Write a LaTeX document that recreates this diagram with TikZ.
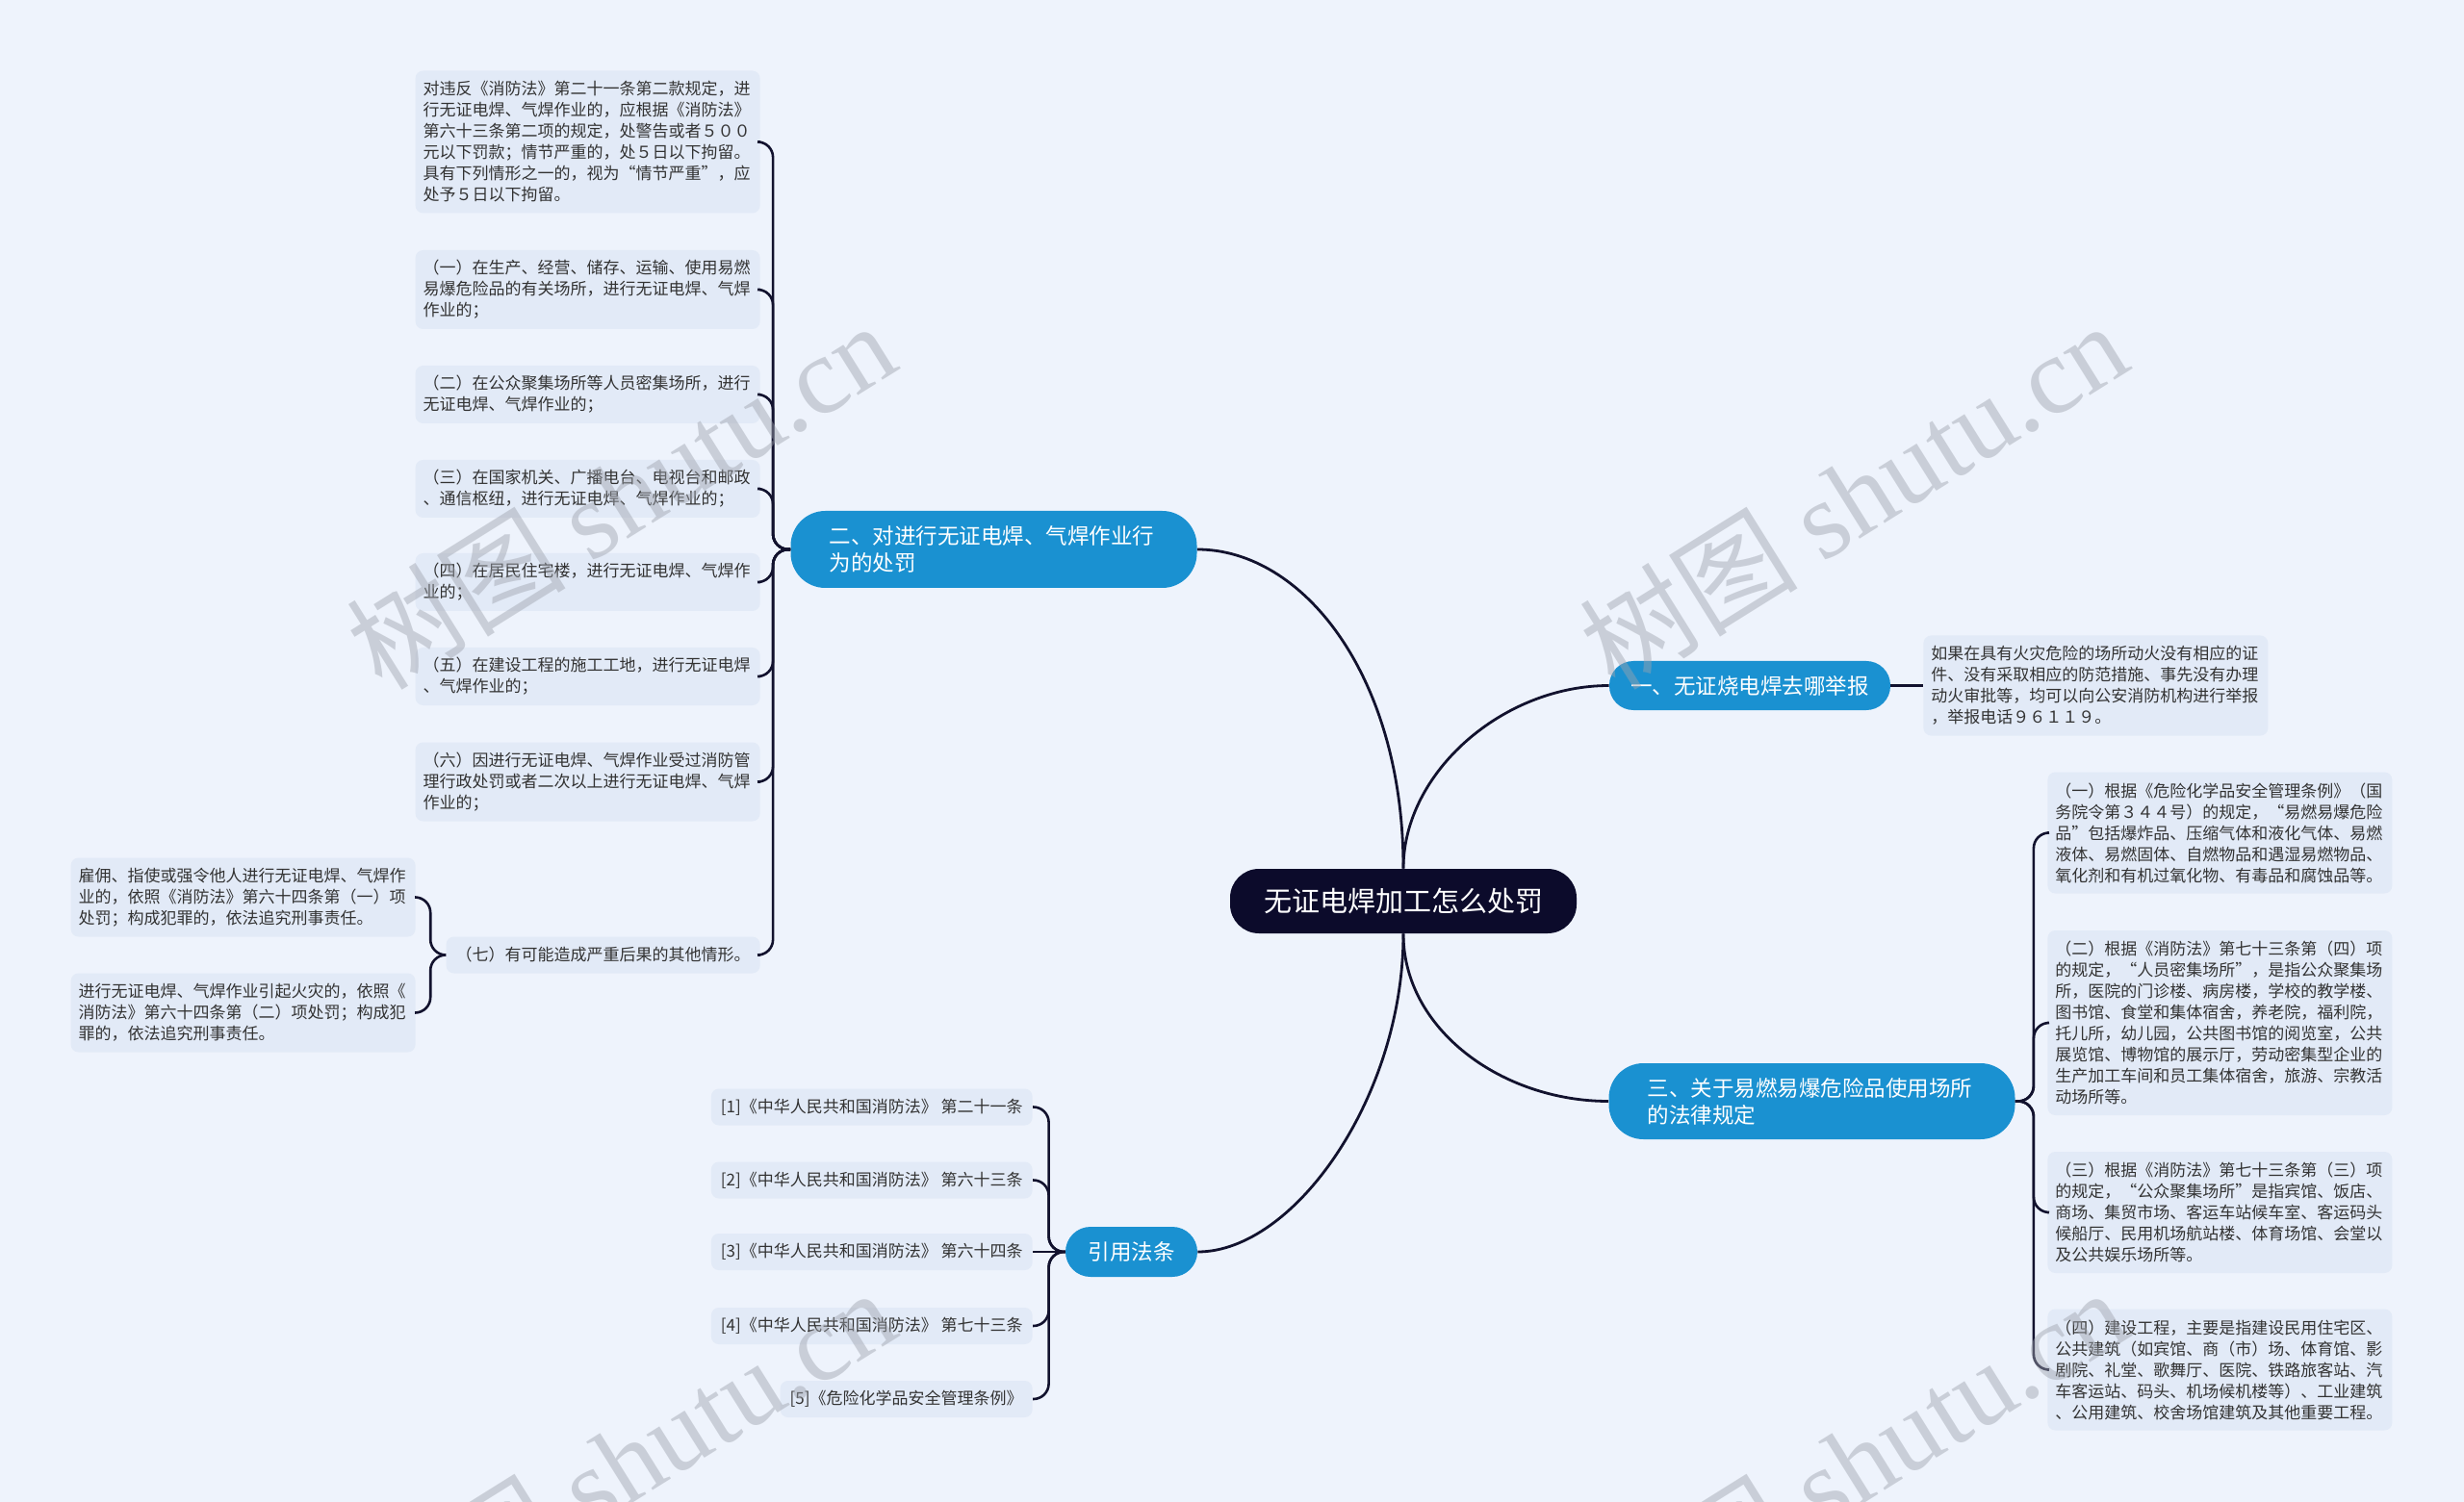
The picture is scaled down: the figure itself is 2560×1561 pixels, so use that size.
\documentclass[tikz,border=0pt]{standalone}
\usepackage{fontspec}
\setmainfont{Noto Sans CJK SC}
\newfontfamily\wmlatin{Liberation Serif}
\definecolor{bg}{HTML}{EEF3FC}
\definecolor{leafc}{HTML}{E2EAF7}
\definecolor{blu}{HTML}{1A91D1}
\definecolor{navy}{HTML}{0C0B2B}
\definecolor{txt}{HTML}{333333}
\definecolor{lnc}{HTML}{12122E}
\definecolor{wm}{HTML}{9EA3AD}
\begin{document}
\begin{tikzpicture}[x=0.5pt,y=-0.5pt,
  leaf/.style={fill=leafc, rounded corners=4pt, inner xsep=4pt, inner ysep=0pt, text=txt,
    font=\fontsize{8.5pt}{11pt}\selectfont, align=left, text width=171pt,
    minimum height={11pt*#1+8pt}},
  short/.style={fill=leafc, rounded corners=4pt, inner xsep=5pt, inner ysep=0pt, text=txt,
    font=\fontsize{8.5pt}{11pt}\selectfont, minimum height=19pt},
  br/.style={fill=blu, text=white, inner sep=0pt, font=\fontsize{11.25pt}{14pt}\selectfont},
  root/.style={fill=navy, text=white, inner sep=0pt, rounded corners=15pt,
    minimum width=180pt, minimum height=33.5pt, font=\fontsize{14.5pt}{17pt}\selectfont},
  conn/.style={draw=lnc, line width=1.4pt},
  bk/.style={draw=lnc, line width=1.3pt, rounded corners=8pt},
  wmk/.style={rotate=32, text=wm, opacity=0.45, inner sep=0pt, font=\fontsize{57pt}{57pt}\selectfont}
]
\useasboundingbox[fill=bg] (0,0) rectangle (2560,1561);

% root and main branches
\node[root] (c) at (1458,936.5) {无证电焊加工怎么处罚};
\node[br, text width=171pt, align=left, inner xsep=20pt, minimum height=40pt, rounded corners=18pt] (b2) at (1032.5,571) {二、对进行无证电焊、气焊作业行\\为的处罚};
\node[br, minimum width=146pt, minimum height=25.5pt, rounded corners=12.5pt] (b1) at (1818,712.5) {一、无证烧电焊去哪举报};
\node[br, text width=171pt, align=left, inner xsep=20pt, minimum height=39.5pt, rounded corners=18pt] (b3) at (1882.5,1144.5) {三、关于易燃易爆危险品使用场所\\的法律规定};
\node[br, minimum width=68.5pt, minimum height=26pt, rounded corners=13pt] (b4) at (1175.5,1301) {引用法条};

% left leaves
\node[leaf=6, anchor=east] (l0) at (790,147.5) {对违反《消防法》第二十一条第二款规定，进\\行无证电焊、气焊作业的，应根据《消防法》\\第六十三条第二项的规定，处警告或者５００\\元以下罚款；情节严重的，处５日以下拘留。\\具有下列情形之一的，视为“情节严重”，应\\处予５日以下拘留。};
\node[leaf=3, anchor=east] (l1) at (790,301) {（一）在生产、经营、储存、运输、使用易燃\\易爆危险品的有关场所，进行无证电焊、气焊\\作业的；};
\node[leaf=2, anchor=east] (l2) at (790,410) {（二）在公众聚集场所等人员密集场所，进行\\无证电焊、气焊作业的；};
\node[leaf=2, anchor=east] (l3) at (790,508) {（三）在国家机关、广播电台、电视台和邮政\\、通信枢纽，进行无证电焊、气焊作业的；};
\node[leaf=2, anchor=east] (l4) at (790,605) {（四）在居民住宅楼，进行无证电焊、气焊作\\业的；};
\node[leaf=2, anchor=east] (l5) at (790,703) {（五）在建设工程的施工工地，进行无证电焊\\、气焊作业的；};
\node[leaf=3, anchor=east] (l6) at (790,812.5) {（六）因进行无证电焊、气焊作业受过消防管\\理行政处罚或者二次以上进行无证电焊、气焊\\作业的；};
\node[short, anchor=east] (l7) at (790,992.5) {（七）有可能造成严重后果的其他情形。};
\node[leaf=3, anchor=east] (l7a) at (432,932.5) {雇佣、指使或强令他人进行无证电焊、气焊作\\业的，依照《消防法》第六十四条第（一）项\\处罚；构成犯罪的，依法追究刑事责任。};
\node[leaf=3, anchor=east] (l7b) at (432,1052.5) {进行无证电焊、气焊作业引起火灾的，依照《\\消防法》第六十四条第（二）项处罚；构成犯\\罪的，依法追究刑事责任。};

% citations
\node[short, anchor=east] (c1) at (1073,1150.5) {[1]《中华人民共和国消防法》 第二十一条};
\node[short, anchor=east] (c2) at (1073,1226.5) {[2]《中华人民共和国消防法》 第六十三条};
\node[short, anchor=east] (c3) at (1073,1301) {[3]《中华人民共和国消防法》 第六十四条};
\node[short, anchor=east] (c4) at (1073,1378) {[4]《中华人民共和国消防法》 第七十三条};
\node[short, anchor=east] (c5) at (1073,1454) {[5]《危险化学品安全管理条例》};

% right leaves
\node[leaf=4, anchor=west] (r1) at (1998,712.5) {如果在具有火灾危险的场所动火没有相应的证\\件、没有采取相应的防范措施、事先没有办理\\动火审批等，均可以向公安消防机构进行举报\\，举报电话９６１１９。};
\node[leaf=5, anchor=west] (r3a) at (2127,865.5) {（一）根据《危险化学品安全管理条例》（国\\务院令第３４４号）的规定，“易燃易爆危险\\品”包括爆炸品、压缩气体和液化气体、易燃\\液体、易燃固体、自燃物品和遇湿易燃物品、\\氧化剂和有机过氧化物、有毒品和腐蚀品等。};
\node[leaf=8, anchor=west] (r3b) at (2127,1063) {（二）根据《消防法》第七十三条第（四）项\\的规定，“人员密集场所”，是指公众聚集场\\所，医院的门诊楼、病房楼，学校的教学楼、\\图书馆、食堂和集体宿舍，养老院，福利院，\\托儿所，幼儿园，公共图书馆的阅览室，公共\\展览馆、博物馆的展示厅，劳动密集型企业的\\生产加工车间和员工集体宿舍，旅游、宗教活\\动场所等。};
\node[leaf=5, anchor=west] (r3c) at (2127,1260) {（三）根据《消防法》第七十三条第（三）项\\的规定，“公众聚集场所”是指宾馆、饭店、\\商场、集贸市场、客运车站候车室、客运码头\\候船厅、民用机场航站楼、体育场馆、会堂以\\及公共娱乐场所等。};
\node[leaf=5, anchor=west] (r3d) at (2127,1423.5) {（四）建设工程，主要是指建设民用住宅区、\\公共建筑（如宾馆、商（市）场、体育馆、影\\剧院、礼堂、歌舞厅、医院、铁路旅客站、汽\\车客运站、码头、机场候机楼等）、工业建筑\\、公用建筑、校舍场馆建筑及其他重要工程。};

% main connectors
\draw[conn] (b2.east) .. controls +(110,0) and +(0,-200) .. (c.north);
\draw[conn] (c.north) .. controls +(0,-100) and +(-110,0) .. (b1.west);
\draw[conn] (c.south) .. controls +(0,100) and +(-110,0) .. (b3.west);
\draw[conn] (c.south) .. controls +(0,170) and +(100,0) .. (b4.east);

% brackets
\foreach \n in {l0,l1,l2,l3,l4,l5,l6,l7} \draw[bk] (b2.west) -- ++(-18,0) |- (\n.east);
\foreach \n in {l7a,l7b} \draw[bk] (l7.west) -- ++(-16,0) |- (\n.east);
\foreach \n in {c1,c2,c4,c5} \draw[bk] (b4.west) -- ++(-17,0) |- (\n.east);
\draw[bk] (b4.west) -- (c3.east);
\foreach \n in {r3a,r3b,r3c,r3d} \draw[bk] (b3.east) -- ++(19,0) |- (\n.west);
\draw[conn] (b1.east) -- (r1.west);

% watermarks
\node[wmk] (w1) at (645,514) {树图 {\wmlatin shutu.cn}};
\node[wmk] (w2) at (1925,514) {树图 {\wmlatin shutu.cn}};
\node[wmk] (w3) at (645,1519) {树图 {\wmlatin shutu.cn}};
\node[wmk] (w4) at (1925,1519) {树图 {\wmlatin shutu.cn}};
\end{tikzpicture}
\end{document}
